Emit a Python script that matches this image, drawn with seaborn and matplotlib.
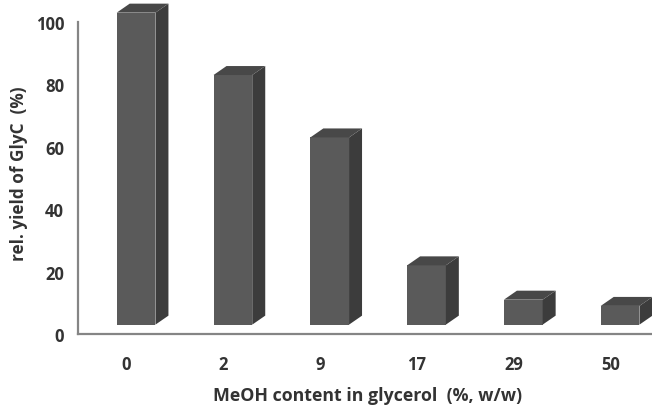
import matplotlib
matplotlib.use("Agg")
import matplotlib.pyplot as plt
from matplotlib.patches import Polygon
from matplotlib.ticker import FixedLocator
import seaborn as sns
import pandas as pd

# MeOH content in glycerol (%, w/w) and relative GlyC yield (%)
meoh_content = ["0", "2", "9", "17", "29", "50"]
rel_yield = [100, 80, 60, 19, 8, 6]
y_ticks = [0, 20, 40, 60, 80, 100]

df = pd.DataFrame({"meoh": meoh_content, "yield": rel_yield})

sns.set_style("white")
plt.rcParams["font.family"] = ["Open Sans", "DejaVu Sans"]

W, H = 652, 406
fig = plt.figure(figsize=(W / 100, H / 100), dpi=100)

# axes frame in pixels
x0_px, y0_px = 78, 335
cat_px = 96.8
px_per_unit = 3.12
ax = fig.add_axes([x0_px / W, (H - y0_px) / H, (W - x0_px) / W, y0_px / H])

front_c, side_c, top_c = "#5a5a5a", "#3c3c3c", "#484848"
sns.barplot(data=df, x="meoh", y="yield", color=front_c, width=0.40,
            saturation=1, ax=ax, linewidth=0, zorder=3)

ax.set_xlim(-0.5, -0.5 + (W - x0_px) / cat_px)
ax.set_ylim(0, y0_px / px_per_unit)

# pseudo-3D extrusion of each column
shift, base = 0.10, 3.0
dx, dy = 13 / cat_px, 9 / px_per_unit
for p in ax.patches[:len(rel_yield)]:
    p.set_x(p.get_x() + shift)
    p.set_y(base)
    xa, xb = p.get_x(), p.get_x() + p.get_width()
    yt = base + p.get_height()
    side = Polygon([(xb, base), (xb + dx, base + dy), (xb + dx, yt + dy), (xb, yt)],
                   closed=True, facecolor=side_c, edgecolor="none", zorder=3)
    top = Polygon([(xa, yt), (xa + dx, yt + dy), (xb + dx, yt + dy), (xb, yt)],
                  closed=True, facecolor=top_c, edgecolor="none", zorder=3)
    ax.add_patch(side)
    ax.add_patch(top)

axis_c = "#858585"
text_c = "#333333"
for s in ["top", "right"]:
    ax.spines[s].set_visible(False)
ax.spines["left"].set_bounds(0, 100)
for s in ["left", "bottom"]:
    ax.spines[s].set_color(axis_c)
    ax.spines[s].set_linewidth(1.6)
    ax.spines[s].set_zorder(4)

ax.set_yticks(y_ticks)
ax.tick_params(axis="y", which="major", length=4, width=1.5, color=axis_c,
               direction="out", pad=6, labelsize=12, labelcolor=text_c)
ax.tick_params(axis="x", which="major", length=0, pad=15,
               labelsize=12, labelcolor=text_c)
ax.xaxis.set_minor_locator(FixedLocator([0.5, 1.5, 2.5, 3.5, 4.5]))
ax.tick_params(axis="x", which="minor", length=6, width=1.5, color=axis_c,
               direction="out")
for lab in ax.get_xticklabels() + ax.get_yticklabels():
    lab.set_fontweight("bold")

ax.set_xlabel("MeOH content in glycerol  (%, w/w)", fontsize=12.8,
              fontweight="bold", color=text_c)
ax.xaxis.set_label_coords((368 - x0_px) / (W - x0_px), -(387 - y0_px) / y0_px)
ax.set_ylabel("rel. yield of GlyC  (%)", fontsize=12.3, fontweight="bold",
              color=text_c)
ax.yaxis.set_label_coords(-(x0_px - 28) / (W - x0_px), (y0_px - 174) / y0_px)

fig.savefig("out.png", dpi=100)
